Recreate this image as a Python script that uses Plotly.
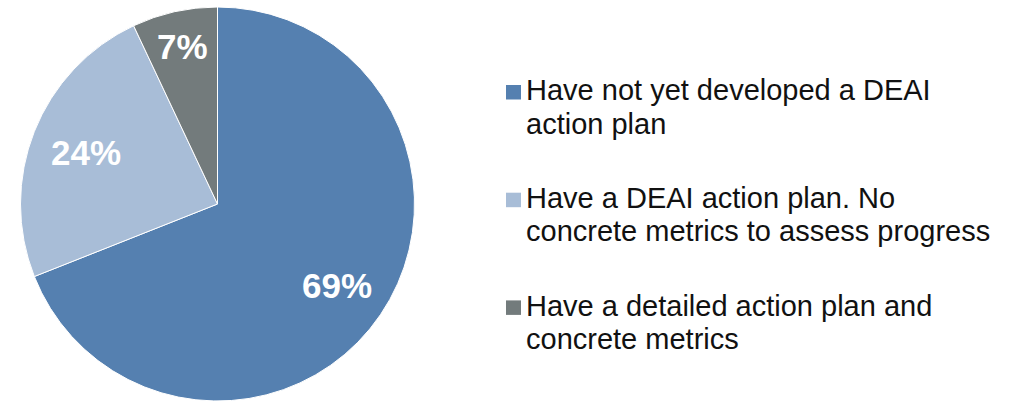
import math
import plotly.graph_objects as go

# Survey responses: share of organisations by DEAI action-plan status
categories = [
    "Have not yet developed a DEAI action plan",
    "Have a DEAI action plan. No concrete metrics to assess progress",
    "Have a detailed action plan and concrete metrics",
]
legend_lines = [
    ["Have not yet developed a DEAI", "action plan"],
    ["Have a DEAI action plan. No", "concrete metrics to assess progress"],
    ["Have a detailed action plan and", "concrete metrics"],
]
shares = [69, 24, 7]
colors = ["#5580B0", "#A8BDD7", "#737B7C"]

W, H = 1015, 401
CX, CY, R = 217.5, 204.0, 197.0          # pie centre and radius in pixels
label_radius = [0.736, 0.717, 0.82]      # radial position of the % labels

fig = go.Figure()
fig.add_trace(go.Pie(
    labels=categories,
    values=shares,
    sort=False,
    direction="clockwise",
    rotation=0,
    marker=dict(colors=colors, line=dict(color="white", width=1)),
    textinfo="none",
    hoverinfo="label+percent",
    showlegend=False,
    domain=dict(x=[(CX - R) / W, (CX + R) / W], y=[0, 2 * R / H]),
))

annotations = []
shapes = []

# Percentage labels placed on each slice's bisector
total = sum(shares)
start = 0.0
for value, frac in zip(shares, label_radius):
    sweep = value / total * 360.0
    mid = math.radians(start + sweep / 2)
    px = CX + R * frac * math.sin(mid)
    py = CY - R * frac * math.cos(mid)
    annotations.append(dict(
        x=px / W, y=1 - py / H, xref="paper", yref="paper",
        text=f"<b>{round(value / total * 100)}%</b>", showarrow=False,
        xanchor="center", yanchor="middle",
        font=dict(family="Liberation Sans, Arial, sans-serif", size=35, color="white"),
    ))
    start += sweep

# Legend: coloured square plus wrapped label for each category
ITEM_STEP = 107.7
LINE_STEP = 33.5
for i, (lines, color) in enumerate(zip(legend_lines, colors)):
    top = 85 + ITEM_STEP * i
    shapes.append(dict(
        type="rect", xref="paper", yref="paper",
        x0=506 / W, x1=521 / W, y0=1 - top / H, y1=1 - (top + 14.5) / H,
        fillcolor=color, line=dict(width=0),
    ))
    for j, line in enumerate(lines):
        baseline = 100.7 + ITEM_STEP * i + LINE_STEP * j
        annotations.append(dict(
            x=524 / W, y=1 - (baseline - 10.5) / H, xref="paper", yref="paper",
            text=line, showarrow=False, xanchor="left", yanchor="middle",
            font=dict(family="Liberation Sans, Arial, sans-serif", size=29, color="#111111"),
        ))

fig.update_layout(
    width=W, height=H,
    margin=dict(l=0, r=0, t=0, b=0),
    paper_bgcolor="white", plot_bgcolor="white",
    annotations=annotations, shapes=shapes,
)

fig.write_html("out.html")
